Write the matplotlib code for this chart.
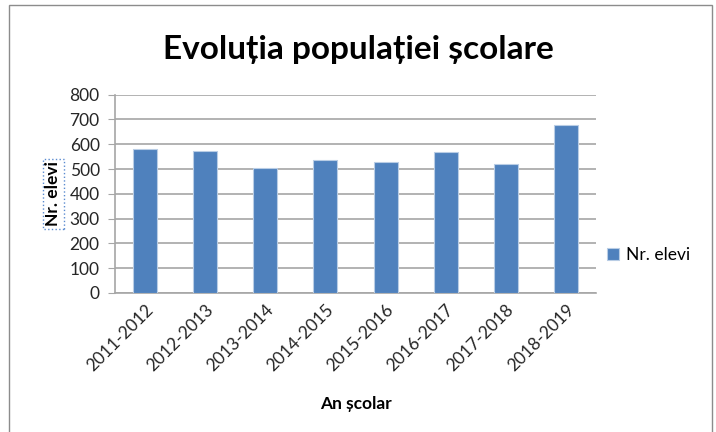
import matplotlib.pyplot as plt
import numpy as np
from matplotlib.patches import Rectangle

plt.rcParams['font.family'] = ['Lato', 'DejaVu Sans']

years = ['2011-2012', '2012-2013', '2013-2014', '2014-2015',
         '2015-2016', '2016-2017', '2017-2018', '2018-2019']
elevi = [580, 573, 504, 535, 527, 570, 519, 676]

fig = plt.figure(figsize=(7.16, 4.32), dpi=100)
ax = fig.add_axes([0.1606, 0.3218, 0.6718, 0.459])

x = np.arange(len(years))
ax.bar(x, elevi, width=0.4, color='#4F81BD', edgecolor='#B9CDE5',
       linewidth=0.8, label='Nr. elevi', zorder=3)

ax.set_xlim(-0.5, len(years) - 0.5)
ax.set_ylim(0, 800)
ax.set_yticks(range(0, 801, 100))
ax.yaxis.grid(True, color='#A6A6A6', linewidth=1.2, zorder=0)
ax.tick_params(axis='y', labelsize=12.5, length=5, color='#A6A6A6', pad=6,
               labelcolor='#262626')
ax.set_xticks(x)
ax.set_xticklabels(years, rotation=45, ha='right', rotation_mode='anchor',
                   fontsize=12.5, color='#262626')
ax.tick_params(axis='x', length=0, pad=6)
for s in ['top', 'right']:
    ax.spines[s].set_visible(False)
for s in ['left', 'bottom']:
    ax.spines[s].set_color('#A6A6A6')
    ax.spines[s].set_linewidth(1.2)

ax.set_xlabel('An școlar', fontsize=12.5, fontweight='bold', labelpad=16)
ax.set_ylabel('Nr. elevi', fontsize=12.5, fontweight='bold', labelpad=6,
              bbox=dict(boxstyle='square,pad=0.15', fc='none',
                        ec='#5B8BD0', ls=':', lw=1))

fig.text(0.5, 0.885, 'Evoluția populației școlare', ha='center',
         va='center', fontsize=24, fontweight='bold')

ax.legend(loc='center left', bbox_to_anchor=(0.99, 0.19), frameon=False,
          fontsize=12.5, handlelength=0.7, handleheight=0.7,
          handletextpad=0.4)

fig.patches.append(Rectangle((0.012, -0.01), 0.983, 0.998,
                             transform=fig.transFigure, fill=False,
                             ec='#8C8C8C', lw=1))

fig.savefig('out.png', dpi=100)
